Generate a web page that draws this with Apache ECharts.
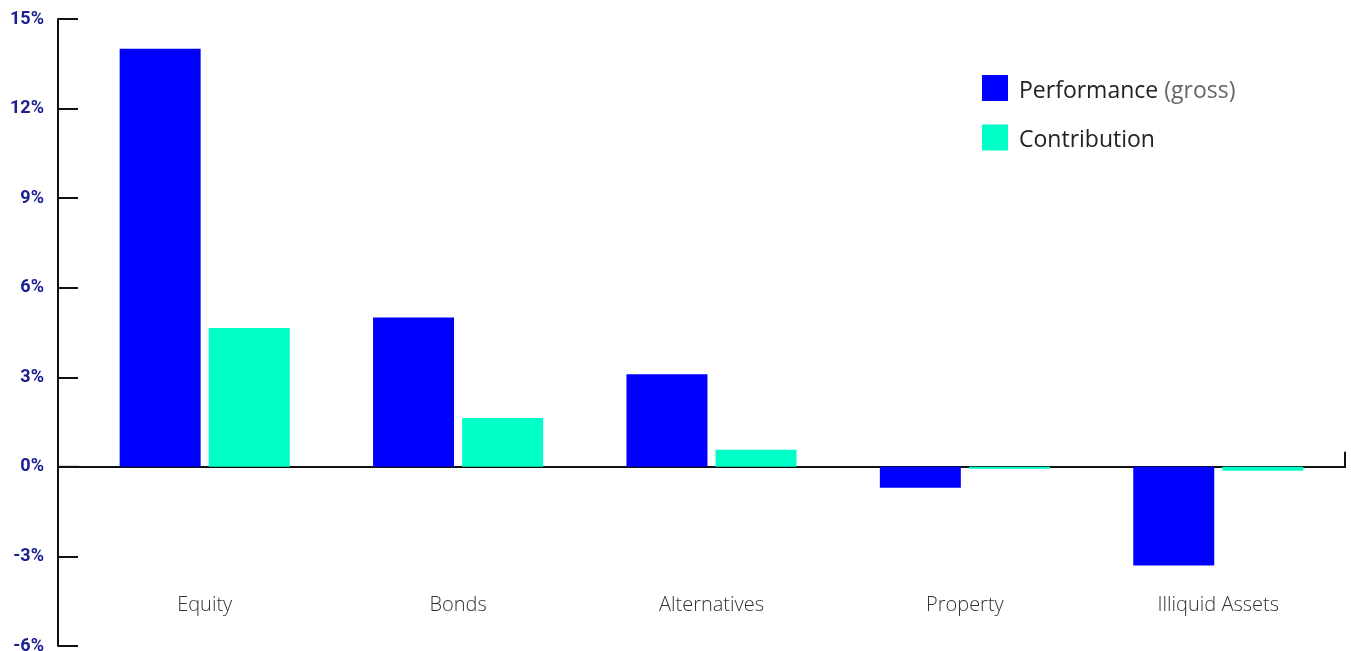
<!DOCTYPE html>
<html>
<head>
<meta charset="utf-8">
<script src="https://cdn.jsdelivr.net/npm/echarts@6/dist/echarts.min.js"></script>
<style>
html,body{margin:0;padding:0;background:#fff;}
#main{width:1351px;height:651px;}
</style>
</head>
<body>
<div id="main"></div>
<script>
var categories = ['Equity', 'Bonds', 'Alternatives', 'Property', 'Illiquid Assets'];
var performance = [14.0, 5.0, 3.1, -0.7, -3.3];
var contribution = [4.65, 1.64, 0.57, -0.06, -0.13];
var yMin = -6, yMax = 15, yStep = 3;

var myChart = echarts.init(document.getElementById('main'));

var option = {
  animation: false,
  grid: { left: 78, right: 6, top: 19, bottom: 5, containLabel: false, outerBoundsMode: 'none' },
  legend: {
    left: 977,
    top: 70,
    orient: 'vertical',
    icon: 'rect',
    itemWidth: 26,
    itemHeight: 26,
    itemGap: 22,
    textStyle: {
      fontFamily: 'Open Sans',
      fontSize: 23,
      color: '#222',
      padding: [6, 0, 0, 6],
      rich: {
        g: { fontFamily: 'Open Sans', fontSize: 23, color: '#666' }
      }
    },
    formatter: function (name) {
      return name === 'Performance' ? 'Performance {g|(gross)}' : name;
    },
    data: ['Performance', 'Contribution']
  },
  xAxis: [
    {
      type: 'category',
      data: categories,
      axisLine: { lineStyle: { color: '#111', width: 2 } },
      axisTick: { show: false },
      axisLabel: { show: false }
    },
    {
      // labels only, sitting above the bottom edge of the grid
      type: 'category',
      data: categories,
      position: 'bottom',
      axisLine: { show: false, onZero: false },
      axisTick: { show: false },
      axisLabel: {
        inside: true,
        margin: 31,
        fontFamily: 'Open Sans',
        fontWeight: 300,
        fontSize: 20,
        color: '#333'
      }
    }
  ],
  yAxis: {
    type: 'value',
    min: yMin,
    max: yMax,
    interval: yStep,
    offset: 20,
    splitLine: { show: false },
    axisLine: { show: true, lineStyle: { color: '#111', width: 2 } },
    axisTick: { show: true, inside: true, length: 20, lineStyle: { color: '#111', width: 2 } },
    axisLabel: {
      margin: 14,
      fontFamily: 'Roboto',
      fontWeight: 'bold',
      fontSize: 18,
      color: '#1c2090',
      formatter: '{value}%'
    }
  },
  series: [
    {
      name: 'Performance',
      type: 'bar',
      data: performance,
      barWidth: 81,
      barGap: '10%',
      itemStyle: { color: '#0000ff' }
    },
    {
      name: 'Contribution',
      type: 'bar',
      data: contribution,
      barWidth: 81,
      itemStyle: { color: '#00ffc6' }
    }
  ]
};

myChart.setOption(option);

// extend the x axis line to the offset y axis and add the end tick
var zeroPt = myChart.convertToPixel({ gridIndex: 0 }, [0, 0]);
var y0 = zeroPt[1];
myChart.setOption({
  graphic: [
    { type: 'line', shape: { x1: 58, y1: y0, x2: 79, y2: y0 }, style: { stroke: '#111', lineWidth: 2 } },
    { type: 'line', shape: { x1: 1345, y1: y0 + 1, x2: 1345, y2: y0 - 15 }, style: { stroke: '#111', lineWidth: 2 } }
  ]
});
</script>
</body>
</html>
